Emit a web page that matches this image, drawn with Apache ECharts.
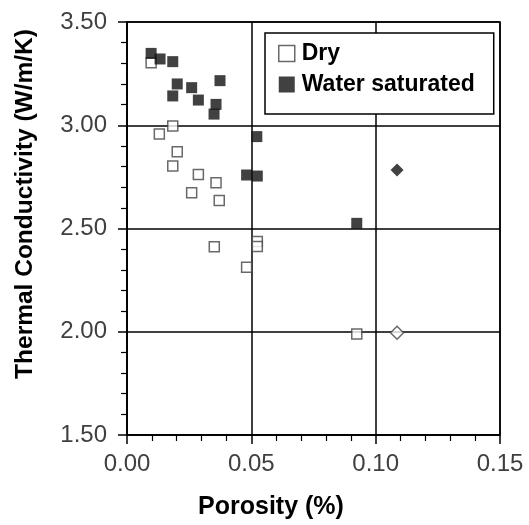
<!DOCTYPE html>
<html>
<head>
<meta charset="utf-8">
<script src="https://cdn.jsdelivr.net/npm/echarts@6/dist/echarts.min.js"></script>
<style>html,body{margin:0;padding:0;background:#fff;}#chart{width:529px;height:525px;}</style>
</head>
<body>
<div id="chart"></div>
<script>
const xTicks = [0.00, 0.05, 0.10, 0.15];
const yTicks = [1.50, 2.00, 2.50, 3.00, 3.50];
const dryPorosity = [0.0097, 0.0184, 0.0130, 0.0202, 0.0184, 0.0287, 0.0358, 0.0260, 0.0371, 0.0351, 0.0524, 0.0524, 0.0481, 0.0924];
const dryConductivity = [3.303, 2.996, 2.958, 2.872, 2.803, 2.762, 2.722, 2.673, 2.635, 2.412, 2.437, 2.413, 2.312, 1.989];
const wetPorosity = [0.0097, 0.0133, 0.0184, 0.0202, 0.0184, 0.0260, 0.0287, 0.0374, 0.0358, 0.0350, 0.0522, 0.0481, 0.0524, 0.0924];
const wetConductivity = [3.348, 3.321, 3.308, 3.200, 3.142, 3.182, 3.122, 3.216, 3.101, 3.054, 2.945, 2.759, 2.754, 2.525];
const dryOtherPorosity = [0.1086];
const dryOtherConductivity = [1.995];
const wetOtherPorosity = [0.1086];
const wetOtherConductivity = [2.783];

const pairs = (xs, ys) => xs.map((x, i) => [x, ys[i]]);
const font = 'Liberation Sans, Arial, sans-serif';
const chart = echarts.init(document.getElementById('chart'), null, {renderer: 'canvas'});
chart.setOption({
  backgroundColor: '#fff',
  animation: false,
  grid: {left: 127, right: 29, top: 22, bottom: 90, show: true, borderColor: '#000', borderWidth: 1.5, backgroundColor: 'transparent'},
  legend: {
    data: [
      {name: 'Dry', icon: 'rect', itemStyle: {color: '#fff', borderColor: '#444', borderWidth: 1.5}},
      {name: 'Water saturated', icon: 'rect', itemStyle: {color: '#111', borderColor: '#111', borderWidth: 0}}
    ],
    orient: 'vertical', left: 265, top: 33,
    itemWidth: 16, itemHeight: 16, itemGap: 8,
    padding: [9, 19, 18, 13],
    borderColor: '#000', borderWidth: 1.5, backgroundColor: '#fff',
    textStyle: {fontFamily: font, fontSize: 23, fontWeight: 'bold', color: '#000', lineHeight: 22, padding: [0, 0, 0, 2]}
  },
  xAxis: {
    type: 'value', min: 0, max: 0.15, interval: 0.05,
    axisLine: {show: true, onZero: false, lineStyle: {color: '#000', width: 1.5}},
    axisTick: {show: true, inside: false, length: 9, lineStyle: {color: '#000', width: 1.5}},
    minorTick: {show: true, splitNumber: 5, length: 6, lineStyle: {color: '#000', width: 1.2}},
    splitLine: {show: true, lineStyle: {color: '#000', width: 1.5}},
    axisLabel: {margin: 17, fontFamily: font, fontSize: 24, color: '#404040', formatter: v => v.toFixed(2)}
  },
  yAxis: {
    type: 'value', min: 1.5, max: 3.5, interval: 0.5,
    axisLine: {show: true, onZero: false, lineStyle: {color: '#000', width: 1.5}},
    axisTick: {show: true, inside: false, length: 9, lineStyle: {color: '#000', width: 1.5}},
    minorTick: {show: true, splitNumber: 5, length: 6, lineStyle: {color: '#000', width: 1.2}},
    splitLine: {show: true, lineStyle: {color: '#000', width: 1.5}},
    axisLabel: {margin: 20, fontFamily: font, fontSize: 24, color: '#404040', formatter: v => v.toFixed(2)}
  },
  graphic: [
    {type: 'text', style: {text: 'Porosity (%)', fontFamily: font, fontSize: 25, fontWeight: 'bold', fill: '#000', textAlign: 'center', textVerticalAlign: 'middle'}, position: [271, 507]},
    {type: 'text', style: {text: 'Thermal Conductivity (W/m/K)', fontFamily: font, fontSize: 24.5, fontWeight: 'bold', fill: '#000', textAlign: 'center', textVerticalAlign: 'middle'}, position: [25, 204], rotation: Math.PI / 2}
  ],
  series: [
    {name: 'Dry', type: 'scatter', symbol: 'rect', symbolSize: 10, data: pairs(dryPorosity, dryConductivity), itemStyle: {color: '#fff', borderColor: '#444', borderWidth: 1.5}, z: 3},
    {name: 'Water saturated', type: 'scatter', symbol: 'rect', symbolSize: 11, data: pairs(wetPorosity, wetConductivity), itemStyle: {color: '#111'}, z: 4},
    {name: 'Dry (other)', type: 'scatter', symbol: 'diamond', symbolSize: 13, data: pairs(dryOtherPorosity, dryOtherConductivity), itemStyle: {color: '#fff', borderColor: '#444', borderWidth: 1.5}, z: 3},
    {name: 'Water saturated (other)', type: 'scatter', symbol: 'diamond', symbolSize: 13, data: pairs(wetOtherPorosity, wetOtherConductivity), itemStyle: {color: '#111'}, z: 4}
  ]
});
</script>
</body>
</html>
